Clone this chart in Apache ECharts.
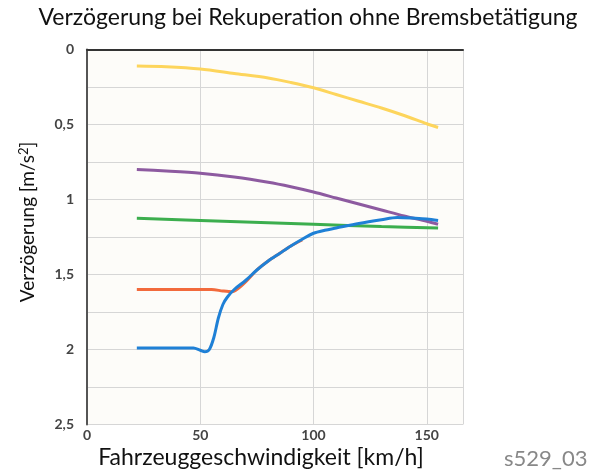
<!DOCTYPE html>
<html><head><meta charset="utf-8">
<script src="https://cdn.jsdelivr.net/npm/echarts@6/dist/echarts.min.js"></script>
<style>html,body{margin:0;padding:0;background:#fff}#c{width:591px;height:476px}</style>
</head><body><div id="c"></div>
<script>
const titleText = 'Verzögerung bei Rekuperation ohne Bremsbetätigung';
const xName = 'Fahrzeuggeschwindigkeit [km/h]';
const yNameRich = 'Verzögerung [m/s{sup|2}]';
const codeText = 's529_03';

const yellow = [[22,0.11],[35,0.115],[50,0.13],[65,0.16],[80,0.19],[90,0.22],[100,0.255],[110,0.30],[120,0.345],[130,0.39],[140,0.44],[150,0.495],[155,0.52]];
const purple = [[22,0.80],[35,0.81],[50,0.825],[65,0.85],[80,0.885],[90,0.915],[100,0.95],[110,0.99],[120,1.03],[130,1.07],[140,1.11],[150,1.145],[155,1.165]];
const green = [[22,1.125],[60,1.145],[100,1.165],[130,1.18],[155,1.19]];
const orange = [[22,1.60],[40,1.60],[55,1.60],[60,1.61],[64,1.615],[67,1.59],[70,1.55],[75,1.47],[80,1.41],[85,1.36],[90,1.31],[95,1.27]];
const blue = [[22,1.99],[35,1.99],[47,1.99],[50,2.005],[52,2.015],[54,2.0],[56,1.92],[58,1.79],[60,1.70],[62,1.65],[65,1.60],[70,1.54],[75,1.47],[80,1.41],[85,1.36],[90,1.31],[95,1.265],[100,1.225],[105,1.205],[110,1.19],[120,1.16],[130,1.135],[137,1.12],[145,1.125],[150,1.13],[155,1.14]];

const chart = echarts.init(document.getElementById('c'), null, {renderer:'canvas'});
const lbl = {fontFamily:'Lato', fontWeight:'bold', fontSize:14, color:'#444'};
function mk(name, data, color){
  return {type:'line', name, data, smooth:0.3, symbol:'none', lineStyle:{color, width:3}, z: 2};
}
chart.setOption({
  backgroundColor:'#fff',
  animation:false,
  grid:{left:87, right:128, top:49.5, bottom:51.5, show:true, backgroundColor:'#fdfcf9', borderWidth:0},
  xAxis:{type:'value', min:0, max:166, interval:50,
    axisLine:{show:true, lineStyle:{color:'#333', width:2}},
    axisTick:{show:false},
    axisLabel:{...lbl, margin:4, formatter:v=> (v%50===0? String(v):'')},
    splitLine:{show:true, lineStyle:{color:'#d6d6d6', width:1}}},
  yAxis:{type:'value', inverse:true, min:0, max:2.5, interval:0.25,
    axisLine:{show:true, onZero:false, lineStyle:{color:'#555', width:2}},
    axisTick:{show:false},
    axisLabel:{...lbl, margin:13, formatter:v=>{const r=Math.round(v*100); return r%50===0 ? String(v).replace('.',',') : '';}},
    splitLine:{show:true, lineStyle:{color:'#d6d6d6', width:1}}},
  graphic:[
    {type:'text', x:308, y:18, style:{text:titleText, font:'23px Lato', fill:'#111', align:'center', verticalAlign:'middle'}},
    {type:'text', x:261, y:458, style:{text:xName, font:'23px Lato', fill:'#111', align:'center', verticalAlign:'middle'}},
    {type:'text', x:28, y:222, rotation:Math.PI/2, style:{text:yNameRich, font:'19px Lato', fill:'#111', align:'center', verticalAlign:'middle',
       rich:{sup:{fontSize:13, fontFamily:'Lato', verticalAlign:'top', padding:[0,0,8,0], fill:'#111'}}}},
    {type:'text', x:504, y:459, style:{text:codeText, font:'22px Lato', fill:'#888', align:'left', verticalAlign:'middle'}}
  ],
  series:[
    mk('gelb', yellow, '#fdd55c'),
    mk('lila', purple, '#8d5aa0'),
    mk('grün', green, '#3cae4e'),
    mk('orange', orange, '#f26a3c'),
    mk('blau', blue, '#1f80d6')
  ]
});
</script></body></html>
